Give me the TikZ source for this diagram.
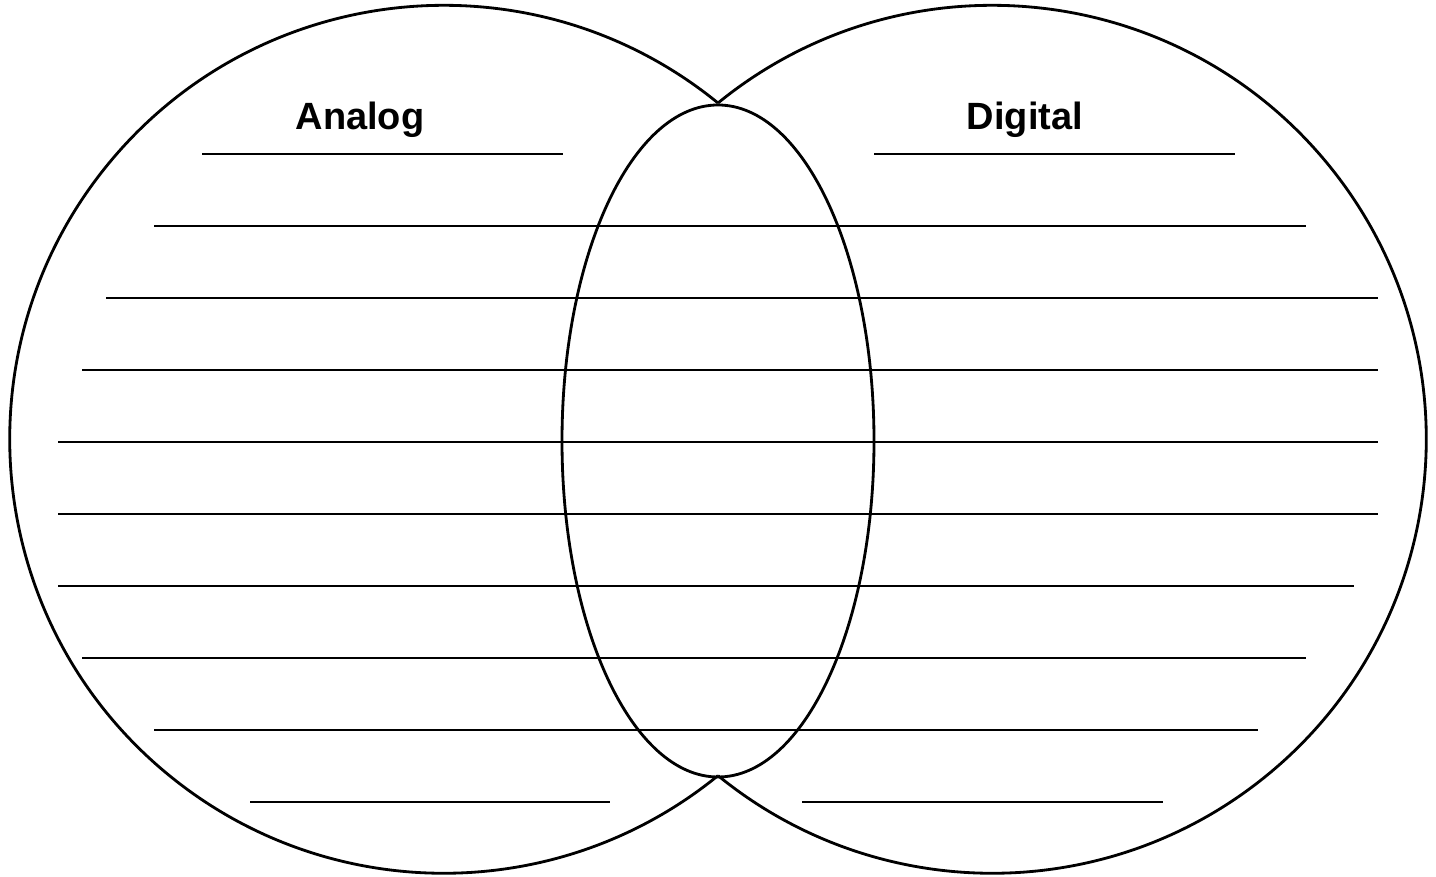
\documentclass[tikz,border=0pt]{standalone}
\usepackage{fontspec}
\setmainfont{Liberation Sans}
\usetikzlibrary{positioning}
\begin{document}
\begin{tikzpicture}[x=0.01cm, y=-0.01cm, font=\fontsize{10.8}{13}\selectfont\bfseries,
  ring/.style={draw, line width=0.8pt},
  writeline/.style={draw, line width=0.42pt}]
\useasboundingbox (0,0) rectangle (1436,877);
\coordinate (top) at (718,103);
\coordinate (bot) at (718,775);
% outer arcs of the two sets
\draw[ring] (top) arc[start angle=-50.8, end angle=-309.2, radius=434];
\draw[ring] (top) arc[start angle=-129.2, end angle=129.2, radius=434];
\draw[ring] (718,441) ellipse[x radius=156, y radius=336];
\node[anchor=base] (analog) at (360,130) {Analog};
\node[anchor=base] (digital) at (1025,130) {Digital};
% writing lines
\draw[writeline] (202,154) -- (563,154);
\draw[writeline] (874,154) -- (1235,154);
\foreach \y/\xa/\xb in {226/154/1306, 298/106/1378, 370/82/1378, 442/58/1378, 514/58/1378,
  586/58/1354, 658/82/1306, 730/154/1258}
  \draw[writeline] (\xa,\y) -- (\xb,\y);
\draw[writeline] (250,802) -- (610,802);
\draw[writeline] (802,802) -- (1163,802);
\end{tikzpicture}
\end{document}
